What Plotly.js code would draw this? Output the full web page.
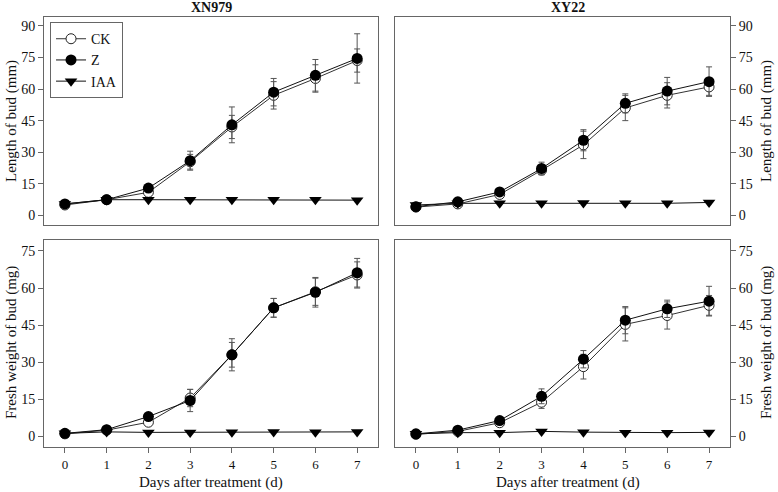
<!DOCTYPE html>
<html>
<head>
<meta charset="utf-8">
<script src="https://cdn.plot.ly/plotly-3.0.1.min.js"></script>
<style>body{margin:0;background:#fff}#chart{width:778px;height:492px}</style>
</head>
<body>
<div id="chart"></div>
<script>
// days after treatment
var days = [0, 1, 2, 3, 4, 5, 6, 7];

// length of bud (mm), XN979
var lenXN_CK = [5, 7.5, 11, 25.5, 42, 57, 65, 73.5];
var lenXN_CKerr = [0.8, 0.7, 1.5, 3.5, 5.5, 6.5, 6.5, 5.5];
var lenXN_Z = [5.5, 7.5, 13, 26, 43, 58.5, 66.5, 74.5];
var lenXN_Zerr = [0.8, 0.7, 1.5, 4.5, 8.5, 6.5, 7.5, 11.7];
var lenXN_IAA = [5.5, 7.5, 7.5, 7.5, 7.5, 7.5, 7.5, 7.3];

// length of bud (mm), XY22
var lenXY_CK = [4, 5.5, 10, 21.5, 33.5, 51, 57, 61];
var lenXY_CKerr = [0.8, 0.8, 1.5, 2, 6.5, 6, 6, 4];
var lenXY_Z = [4.2, 6.5, 11.2, 22.3, 35.7, 53.2, 59, 63.5];
var lenXY_Zerr = [0.8, 0.8, 1.5, 3, 5, 4.5, 6.5, 7];
var lenXY_IAA = [5, 5.8, 5.8, 5.8, 6, 5.8, 5.8, 6.2];

// fresh weight of bud (mg), XN979
var fwXN_CK = [1, 2.5, 5.7, 15.5, 33, 52, 58.5, 65.3];
var fwXN_CKerr = [0.3, 0.4, 1, 3.5, 5, 3.8, 5.5, 5.3];
var fwXN_Z = [1.2, 2.7, 8, 14.5, 33, 52, 58.3, 66.2];
var fwXN_Zerr = [0.3, 0.4, 1, 4.5, 6.5, 3.8, 6, 5.8];
var fwXN_IAA = [1.2, 1.8, 1.6, 1.6, 1.7, 1.8, 1.7, 1.8];

// fresh weight of bud (mg), XY22
var fwXY_CK = [0.8, 2, 5.5, 13.8, 28.2, 45.3, 48.9, 53];
var fwXY_CKerr = [0.3, 0.4, 0.8, 2.5, 5, 6.7, 5.5, 4];
var fwXY_Z = [1, 2.5, 6.4, 16.2, 31.2, 47, 51.6, 54.7];
var fwXY_Zerr = [0.3, 0.4, 0.8, 3, 3.5, 5.5, 3.5, 6];
var fwXY_IAA = [1, 1.5, 1.5, 2, 1.7, 1.5, 1.5, 1.6];

var serif = 'Liberation Serif, Times New Roman, serif';
var errStyle = {type: 'data', visible: true, color: '#555', thickness: 1, width: 3};

function panel(xa, ya, ck, ckErr, z, zErr, iaa, legend) {
    return [
        {x: days, y: ck, xaxis: xa, yaxis: ya, name: 'CK', type: 'scatter', mode: 'lines+markers',
         line: {color: '#333', width: 1},
         marker: {symbol: 'circle', size: 10, color: '#fff', line: {color: '#222', width: 1}},
         error_y: Object.assign({array: ckErr}, errStyle), showlegend: legend},
        {x: days, y: z, xaxis: xa, yaxis: ya, name: 'Z', type: 'scatter', mode: 'lines+markers',
         line: {color: '#111', width: 1},
         marker: {symbol: 'circle', size: 11, color: '#000'},
         error_y: Object.assign({array: zErr}, errStyle), showlegend: legend},
        {x: days, y: iaa, xaxis: xa, yaxis: ya, name: 'IAA', type: 'scatter', mode: 'lines+markers',
         line: {color: '#111', width: 1},
         marker: {symbol: 'triangle-down', size: 11, color: '#000'},
         showlegend: legend}
    ];
}

var data = []
    .concat(panel('x', 'y', lenXN_CK, lenXN_CKerr, lenXN_Z, lenXN_Zerr, lenXN_IAA, true))
    .concat(panel('x2', 'y2', lenXY_CK, lenXY_CKerr, lenXY_Z, lenXY_Zerr, lenXY_IAA, false))
    .concat(panel('x3', 'y3', fwXN_CK, fwXN_CKerr, fwXN_Z, fwXN_Zerr, fwXN_IAA, false))
    .concat(panel('x4', 'y4', fwXY_CK, fwXY_CKerr, fwXY_Z, fwXY_Zerr, fwXY_IAA, false));

var frame = {showline: true, mirror: true, linecolor: '#666', linewidth: 1, showgrid: false,
             zeroline: false, tickcolor: '#666', ticklen: 5, tickfont: {family: serif, size: 14, color: '#111'}};

function xax(domain, anchor, labels) {
    return Object.assign({}, frame, {domain: domain, anchor: anchor, range: [-0.5, 7.5],
        tickvals: days, ticks: labels ? 'outside' : '', showticklabels: labels,
        tickfont: {family: serif, size: 13, color: '#111'}});
}
function yax(domain, anchor, side, top) {
    return Object.assign({}, frame, {domain: domain, anchor: anchor, side: side, ticks: 'outside',
        range: top ? [-4.3, 94] : [-4.45, 79.45],
        tickvals: top ? [0, 15, 30, 45, 60, 75, 90] : [0, 15, 30, 45, 60, 75]});
}

var L = [0.0566, 0.4859], R = [0.5077, 0.9383];
var T = [0.5435, 0.9648], B = [0.0908, 0.5122];

function ann(text, x, y, size, rot, bold) {
    return {text: bold ? '<b>' + text + '</b>' : text, x: x, y: y, xref: 'paper', yref: 'paper',
            xanchor: 'center', yanchor: 'middle',
            showarrow: false, textangle: rot || 0, font: {family: serif, size: size, color: '#111'}};
}

var layout = {
    width: 778, height: 492,
    margin: {l: 0, r: 0, t: 0, b: 0},
    paper_bgcolor: '#fff', plot_bgcolor: '#fff',
    showlegend: true,
    legend: {x: 0.0643, y: 0.955, xanchor: 'left', yanchor: 'top', bordercolor: '#666', borderwidth: 1,
             bgcolor: '#fff', font: {family: serif, size: 14, color: '#111'}, tracegroupgap: 0},
    xaxis: xax(L, 'y', false), yaxis: yax(T, 'x', 'left', true),
    xaxis2: xax(R, 'y2', false), yaxis2: yax(T, 'x2', 'right', true),
    xaxis3: xax(L, 'y3', true), yaxis3: yax(B, 'x3', 'left', false),
    xaxis4: xax(R, 'y4', true), yaxis4: yax(B, 'x4', 'right', false),
    annotations: [
        ann('XN979', 211 / 778, 1 - 7 / 492, 14, 0, true),
        ann('XY22', 568 / 778, 1 - 7 / 492, 14, 0, true),
        ann('Length of bud (mm)', 11 / 778, 1 - 121 / 492, 15, -90),
        ann('Fresh weight of bud (mg)', 11 / 778, 1 - 343 / 492, 15, -90),
        ann('Length of bud (mm)', 766 / 778, 1 - 121 / 492, 15, -90),
        ann('Fresh weight of bud (mg)', 766 / 778, 1 - 343 / 492, 15, -90),
        ann('Days after treatment (d)', 211 / 778, 1 - 482 / 492, 15),
        ann('Days after treatment (d)', 568 / 778, 1 - 482 / 492, 15)
    ]
};

Plotly.newPlot('chart', data, layout, {displayModeBar: false, staticPlot: true});
</script>
</body>
</html>
